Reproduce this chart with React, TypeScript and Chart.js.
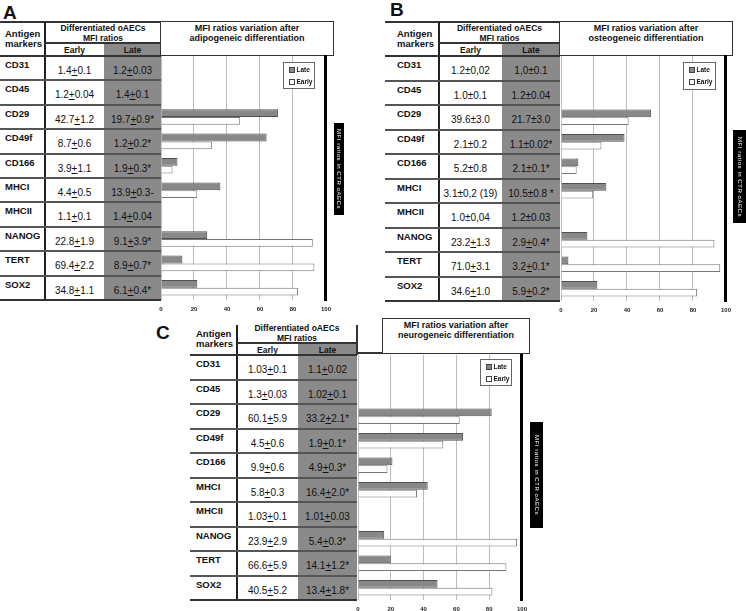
import React, { useEffect, useRef } from "react";
import { Chart, registerables } from "chart.js";
Chart.register(...registerables);

const markers = ["CD31", "CD45", "CD29", "CD49f", "CD166", "MHCI", "MHCII", "NANOG", "TERT", "SOX2"];
const xTicks = [0, 20, 40, 60, 80, 100];
const legendLabels = ["Late", "Early"];
const sideLabel = "MFI ratios in CTR oAECs";
const markerHeader = ["Antigen", "markers"];
const groupHeader = ["Differentiated oAECs", "MFI ratios"];
const colHeaders = ["Early", "Late"];

const adipoTitle = ["MFI ratios variation after", "adipogeneic differentiation"];
const adipoEarlyText = ["1.4+0.1", "1.2+0.04", "42.7+1.2", "8.7+0.6", "3.9+1.1", "4.4+0.5", "1.1+0.1", "22.8+1.9", "69.4+2.2", "34.8+1.1"];
const adipoLateText = ["1.2+0.03", "1.4+0.1", "19.7+0.9*", "1.2+0.2*", "1.9+0.3*", "13.9+0.3-", "1.4+0.04", "9.1+3.9*", "8.9+0.7*", "6.1+0.4*"];
const adipoLate = [null, null, 71, 64, 10, 36, null, 28, 13, 22];
const adipoEarly = [null, null, 48, 31, 7, 22, null, 92, 93, 83];

const osteoTitle = ["MFI ratios variation after", "osteogeneic differentiation"];
const osteoEarlyText = ["1.2±0,02", "1.0±0.1", "39.6±3.0", "2.1±0.2", "5.2±0.8", "3.1±0,2 (19)", "1.0±0,04", "23.2+1.3", "71.0+3.1", "34.6+1.0"];
const osteoLateText = ["1,0±0.1", "1.2±0.04", "21.7±3.0", "1.1±0.02*", "2.1±0.1*", "10.5±0.8 *", "1.2±0.03", "2.9+0.4*", "3.2+0.1*", "5.9+0.2*"];
const osteoLate = [null, null, 54.5, 38.5, 10.5, 27.5, null, 16, 4.5, 22];
const osteoEarly = [null, null, 41, 24.5, 9.5, 19.5, null, 93, 96.5, 82.5];

const neuroTitle = ["MFI ratios variation after", "neurogeneic differentiation"];
const neuroEarlyText = ["1.03+0.1", "1.3+0.03", "60.1+5.9", "4.5+0.6", "9.9+0.6", "5.8+0.3", "1.03+0.1", "23.9+2.9", "66.6+5.9", "40.5+5.2"];
const neuroLateText = ["1.1+0.02", "1.02+0.1", "33.2+2.1*", "1.9+0.1*", "4.9+0.3*", "16.4+2.0*", "1.01+0.03", "5.4+0.3*", "14.1+1.2*", "13.4+1.8*"];
const neuroLate = [null, null, 81.5, 64, 21, 42.5, null, 16, 20, 48.5];
const neuroEarly = [null, null, 62, 52, 18, 36, null, 97, 90.5, 82];

const FONT = "'Liberation Sans Narrow','Arial Narrow','Liberation Sans',Arial,sans-serif";
const LATE_BG = "#8a8a8a";

type Box = { l: number; t: number; r: number; b: number };

function renderVal(s: string) {
  const parts = s.split("+");
  const out: any[] = [];
  parts.forEach((p, i) => {
    if (i > 0) out.push(<u key={"u" + i}>+</u>);
    out.push(<span key={"s" + i}>{p}</span>);
  });
  return out;
}

function BarChart({ late, early, plot }: { late: (number | null)[]; early: (number | null)[]; plot: Box }) {
  const ref = useRef<HTMLCanvasElement>(null);
  const padL = 10, padR = 6, padT = 2, axisH = 18;
  const w = plot.r - plot.l + padL + padR;
  const h = plot.b - plot.t + padT + axisH;
  useEffect(() => {
    const chart = new Chart(ref.current!, {
      type: "bar",
      data: {
        labels: markers,
        datasets: [
          { label: legendLabels[0], data: late as any, backgroundColor: "#888888", borderColor: "#505050", borderWidth: 1, categoryPercentage: 0.64, barPercentage: 1 },
          { label: legendLabels[1], data: early as any, backgroundColor: "#ffffff", borderColor: "#777777", borderWidth: 1, categoryPercentage: 0.64, barPercentage: 1 },
        ],
      },
      options: {
        indexAxis: "y",
        responsive: false,
        maintainAspectRatio: false,
        animation: false,
        layout: { padding: { left: padL, right: padR, top: padT, bottom: 0 } },
        plugins: { legend: { display: false }, tooltip: { enabled: false } },
        scales: {
          x: {
            type: "linear",
            min: 0,
            max: 100,
            afterBuildTicks: (s: any) => { s.ticks = xTicks.map((v) => ({ value: v })); },
            afterFit: (s: any) => { s.height = axisH; },
            ticks: { font: { family: FONT, size: 6, weight: "bold" }, color: "#222", padding: 6 },
            grid: { color: "#bdbdbd", lineWidth: 1, drawTicks: false },
            border: { display: false },
          },
          y: {
            position: "right",
            ticks: { display: false },
            grid: { display: false, drawTicks: false },
            border: { display: true, color: "#000", width: 3 },
          },
        },
      } as any,
    });
    return () => chart.destroy();
  }, []);
  return (
    <canvas
      ref={ref}
      width={w}
      height={h}
      style={{ position: "absolute", left: plot.l - padL, top: plot.t - padT, width: w, height: h }}
    />
  );
}

function Line({ x, y, w, h, c = "#333" }: { x: number; y: number; w: number; h: number; c?: string }) {
  return <div style={{ position: "absolute", left: x, top: y, width: w, height: h, background: c }} />;
}

type PanelCfg = {
  letter: string; letterX: number; letterY: number;
  x0: number; textX: number; xDiv: number; xEL: number; xR: number;
  yTop: number | null; yVert: number; yHeadLine: number; ySub: number; yBottom: number;
  titleBox: Box; plot: Box; labelBox: Box; legend: Box;
  title: string[]; earlyText: string[]; lateText: string[];
  late: (number | null)[]; early: (number | null)[];
};

function Panel({ c }: { c: PanelCfg }) {
  const rowH = (c.yBottom - c.ySub) / markers.length;
  const items: any[] = [];
  items.push(<div key="latebg" style={{ position: "absolute", left: c.xEL, top: c.yHeadLine, width: c.xR - c.xEL, height: c.yBottom - c.yHeadLine, background: LATE_BG }} />);
  if (c.yTop !== null) items.push(<Line key="top" x={c.x0} y={c.yTop - 1} w={c.titleBox.r - c.x0} h={2} c="#333" />);
  items.push(<Line key="vdiv" x={c.xDiv - 1} y={c.yVert} w={2} h={c.yBottom - c.yVert} c="#222" />);
  items.push(<Line key="hl" x={c.xDiv} y={c.yHeadLine - 1} w={c.xR - c.xDiv} h={1.5} c="#333" />);
  items.push(<Line key="vr" x={c.xR - 1} y={c.yVert} w={1.5} h={c.ySub - c.yVert} c="#333" />);
  items.push(<Line key="sub" x={c.x0} y={c.ySub - 1} w={c.xR - c.x0} h={2} c="#333" />);
  for (let i = 1; i < markers.length; i++) {
    items.push(<Line key={"r" + i} x={c.x0} y={c.ySub + i * rowH - 1} w={c.xR - c.x0} h={2} c="#555" />);
  }
  items.push(<Line key="bot" x={c.x0} y={c.yBottom - 1} w={c.xR - c.x0} h={2} c="#333" />);
  items.push(
    <div key="tb" style={{ position: "absolute", left: c.titleBox.l - 1, top: c.titleBox.t - 1, width: c.titleBox.r - c.titleBox.l + 2, height: c.titleBox.b - c.titleBox.t + 2, border: "1.5px solid #333", boxSizing: "border-box", background: "#fff" }}>
      <div style={{ position: "absolute", left: 0, right: 0, top: 2, textAlign: "center", font: `bold 9px ${FONT}`, lineHeight: "9.5px", color: "#111" }}>
        {c.title[0]}<br />{c.title[1]}
      </div>
    </div>
  );
  if (c.titleBox.l > c.xR) items.push(<Line key="tbl" x={c.xR} y={c.titleBox.b - 1} w={c.titleBox.l - c.xR} h={1.5} c="#333" />);
  items.push(
    <div key="mh" style={{ position: "absolute", left: c.textX, top: c.yHeadLine - 14, font: `bold 9.5px ${FONT}`, lineHeight: "10px", color: "#111" }}>
      {markerHeader[0]}<br />{markerHeader[1]}
    </div>
  );
  items.push(
    <div key="gh" style={{ position: "absolute", left: c.xDiv, width: c.xR - c.xDiv, top: c.yHeadLine - 20, textAlign: "center", font: `bold 8.5px ${FONT}`, lineHeight: "10px", color: "#111" }}>
      {groupHeader[0]}<br />{groupHeader[1]}
    </div>
  );
  items.push(
    <div key="he" style={{ position: "absolute", left: c.xDiv, width: c.xEL - c.xDiv, top: c.yHeadLine + 1, height: c.ySub - c.yHeadLine, textAlign: "center", font: `bold 8.5px ${FONT}`, lineHeight: `${c.ySub - c.yHeadLine}px`, color: "#111" }}>{colHeaders[0]}</div>
  );
  items.push(
    <div key="hla" style={{ position: "absolute", left: c.xEL, width: c.xR - c.xEL, top: c.yHeadLine + 1, height: c.ySub - c.yHeadLine, textAlign: "center", font: `bold 8.5px ${FONT}`, lineHeight: `${c.ySub - c.yHeadLine}px`, color: "#111" }}>{colHeaders[1]}</div>
  );
  markers.forEach((m, i) => {
    const rt = c.ySub + i * rowH;
    items.push(<div key={"m" + i} style={{ position: "absolute", left: c.textX, top: rt + 3, font: `bold 9.5px ${FONT}`, lineHeight: "11px", color: "#111" }}>{m}</div>);
    items.push(<div key={"e" + i} style={{ position: "absolute", left: c.xDiv, width: c.xEL - c.xDiv, top: rt + 9, textAlign: "center", font: `10px ${FONT}`, lineHeight: "11px", color: "#111", whiteSpace: "nowrap" }}>{renderVal(c.earlyText[i])}</div>);
    items.push(<div key={"l" + i} style={{ position: "absolute", left: c.xEL, width: c.xR - c.xEL, top: rt + 9, textAlign: "center", font: `10px ${FONT}`, lineHeight: "11px", color: "#111", whiteSpace: "nowrap" }}>{renderVal(c.lateText[i])}</div>);
  });
  items.push(<div key="letter" style={{ position: "absolute", left: c.letterX, top: c.letterY, font: `bold 19px 'Liberation Sans',Arial,sans-serif`, lineHeight: "22px", color: "#111" }}>{c.letter}</div>);
  return (
    <>
      {items}
      <BarChart late={c.late} early={c.early} plot={c.plot} />
      <div style={{ position: "absolute", left: c.legend.l, top: c.legend.t, width: c.legend.r - c.legend.l, height: c.legend.b - c.legend.t, border: "1px solid #666", background: "#fff", boxSizing: "border-box", font: `bold 6.5px ${FONT}`, color: "#111" }}>
        {legendLabels.map((lab, i) => (
          <div key={lab} style={{ position: "absolute", left: 5, top: 3 + i * 12, height: 8, lineHeight: "8px", display: "flex", alignItems: "center", whiteSpace: "nowrap" }}>
            <span style={{ display: "inline-block", width: 4, height: 4, border: "1px solid #444", background: i === 0 ? "#888" : "#fff", marginRight: 1.5 }} />
            {lab}
          </div>
        ))}
      </div>
      <div style={{ position: "absolute", left: c.labelBox.l, top: c.labelBox.t, width: c.labelBox.r - c.labelBox.l, height: c.labelBox.b - c.labelBox.t, background: "#000", color: "#fff", writingMode: "vertical-rl", display: "flex", alignItems: "center", justifyContent: "center", font: `6px 'Liberation Sans',Arial,sans-serif`, letterSpacing: "0.55px", whiteSpace: "nowrap", overflow: "hidden" }}>
        {sideLabel}
      </div>
    </>
  );
}

const panelA: PanelCfg = {
  letter: "A", letterX: 3, letterY: 2,
  x0: 0, textX: 5, xDiv: 45, xEL: 104, xR: 161,
  yTop: 22, yVert: 22, yHeadLine: 43, ySub: 56, yBottom: 300,
  titleBox: { l: 161, t: 22, r: 333, b: 55 }, plot: { l: 161, t: 56, r: 331, b: 300 },
  labelBox: { l: 334, t: 123, r: 344, b: 215 }, legend: { l: 283, t: 62, r: 315, b: 89 },
  title: adipoTitle, earlyText: adipoEarlyText, lateText: adipoLateText, late: adipoLate, early: adipoEarly,
};
const panelB: PanelCfg = {
  letter: "B", letterX: 390, letterY: -1,
  x0: 385, textX: 397, xDiv: 439, xEL: 502, xR: 560,
  yTop: 22, yVert: 22, yHeadLine: 43, ySub: 56, yBottom: 301,
  titleBox: { l: 560, t: 22, r: 732, b: 55 }, plot: { l: 561, t: 56, r: 731, b: 301 },
  labelBox: { l: 733, t: 130, r: 747, b: 223 }, legend: { l: 683, t: 62, r: 716, b: 90 },
  title: osteoTitle, earlyText: osteoEarlyText, lateText: osteoLateText, late: osteoLate, early: osteoEarly,
};
const panelC: PanelCfg = {
  letter: "C", letterX: 156, letterY: 322,
  x0: 190, textX: 196, xDiv: 237, xEL: 298, xR: 357,
  yTop: null, yVert: 325, yHeadLine: 343, ySub: 355, yBottom: 600,
  titleBox: { l: 383, t: 319, r: 529, b: 353 }, plot: { l: 358, t: 355, r: 527, b: 600 },
  labelBox: { l: 530, t: 422, r: 543, b: 528 }, legend: { l: 480, t: 359, r: 512, b: 386 },
  title: neuroTitle, earlyText: neuroEarlyText, lateText: neuroLateText, late: neuroLate, early: neuroEarly,
};

export default function App() {
  return (
    <div style={{ position: "absolute", left: 0, top: 0, width: 746, height: 611, background: "#fff", overflow: "hidden" }}>
      <Panel c={panelA} />
      <Panel c={panelB} />
      <Panel c={panelC} />
    </div>
  );
}
